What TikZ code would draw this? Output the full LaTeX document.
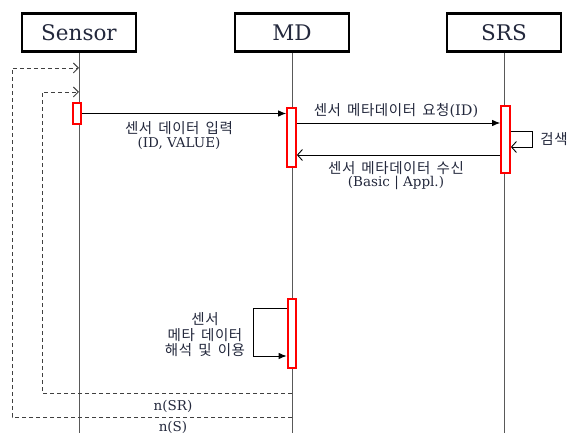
\documentclass[tikz,border=0pt]{standalone}
\usepackage{fontspec}
\setmainfont{DejaVu Serif}
\newfontfamily\kr[WordSpace=1.6,LetterSpace=4]{Noto Sans CJK KR}
\usetikzlibrary{arrows.meta}
\definecolor{txt}{RGB}{35,40,60}
\begin{document}
\begin{tikzpicture}[x=1pt,y=-1pt,
  actor/.style={draw, line width=2.6pt, minimum width=114pt, minimum height=38pt, inner sep=0pt, font=\fontsize{21.5}{24}\selectfont, text=txt},
  act/.style={draw=red, line width=2.2pt, fill=white, minimum width=8.5pt, inner sep=0pt},
  life/.style={draw=black!65, line width=1pt},
  msg/.style={line width=0.9pt, -{Latex[length=8pt,width=6.5pt]}},
  reply/.style={line width=0.9pt, -{Straight Barb[length=5pt,width=11pt]}},
  loopst/.style={line width=0.9pt, draw=black!75, dash pattern=on 4pt off 3pt, -{Straight Barb[length=5pt,width=10pt]}},
  lbl/.style={inner sep=0pt, text=txt, font=\fontsize{14.5}{16}\selectfont},
  lat/.style={inner sep=0pt, text=txt, font=\fontsize{13.5}{15}\selectfont}]
\useasboundingbox (0,0) rectangle (576,433);
% actors
\node[actor] (sensor) at (79,32.5) {Sensor};
\node[actor] (md) at (292,32.5) {MD};
\node[actor] (srs) at (504,32.5) {SRS};
% lifeline ends
\coordinate (se) at (79,433);
\coordinate (me) at (292,433);
\coordinate (re) at (504,433);
\draw[life] (sensor.south) -- (se);
\draw[life] (md.south) -- (me);
\draw[life] (srs.south) -- (re);
% dashed loops
\coordinate (d1) at (42,393);
\coordinate (d2) at (42,92);
\coordinate (e1) at (12,417);
\coordinate (e2) at (12,68);
\draw[loopst] (md.south |- d1) -- (d1) -- (d2) -- (sensor.south |- d2);
\draw[loopst] (md.south |- e1) -- (e1) -- (e2) -- (sensor.south |- e2);
\node[lat] (nsr) at (173,406) {n(SR)};
\node[lat] (ns) at (173,427) {n(S)};
% activations
\node[act, minimum height=21pt] (sa) at (77,113.5) {};
\node[act, minimum height=59pt] (ma1) at (291.5,137.5) {};
\node[act, minimum height=67pt] (sra) at (505.5,139.5) {};
\node[act, minimum height=69pt] (ma2) at (292,333.5) {};
% message 1
\draw[msg] (sa.east) -- (ma1.west |- sa.east);
\node[lbl] (l1a) at (179,128) {\kr 센서 데이터 입력};
\node[lat] (l1b) at (179,143) {(ID, VALUE)};
% message 2
\coordinate (m2) at (0,123);
\draw[msg] (ma1.east |- m2) -- (sra.west |- m2);
\node[lbl] (l2) at (396,111) {{\kr 센서 메타데이터 요청}(ID)};
% self loop search
\coordinate (s1) at (532,131);
\coordinate (s2) at (532,147);
\draw[reply] (sra.east |- s1) -- (s1) -- (s2) -- (sra.east |- s2);
\node[lbl] (srch) at (554,139) {\kr 검색};
% reply
\coordinate (m3) at (0,155);
\draw[reply] (sra.west |- m3) -- (ma1.east |- m3);
\node[lbl] (l3a) at (396,168) {\kr 센서 메타데이터 수신};
\node[lat] (l3b) at (396,183) {(Basic | Appl.)};
% MD self loop
\coordinate (p1) at (253,308);
\coordinate (p2) at (253,356);
\draw[msg] (ma2.west |- p1) -- (p1) -- (p2) -- (ma2.west |- p2);
\node[lbl, align=center, font=\fontsize{14.5}{15.5}\selectfont\kr] (use) at (205,335) {센서\\메타 데이터\\해석 및 이용};
\end{tikzpicture}
\end{document}
